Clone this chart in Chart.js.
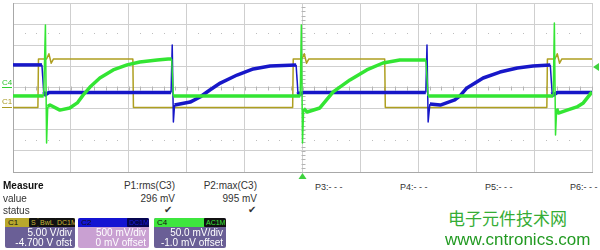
<!DOCTYPE html>
<html>
<head>
<meta charset="utf-8">
<script src="https://cdn.jsdelivr.net/npm/chart.js@4"></script>
<style>
  body { margin: 0; background: #fff; font-family: Arial, "Liberation Sans", sans-serif; }
  #wrap { position: relative; width: 600px; height: 250px; overflow: hidden; }
  #plot { position: absolute; left: 0; top: 0; width: 600px; height: 180px; }
  .t { position: absolute; font-size: 10px; color: #333; white-space: nowrap; line-height: 12px; }
  .r { text-align: right; }
  .box { position: absolute; top: 218px; height: 30px; border-radius: 2px; overflow: hidden; }
  .hd { height: 9px; font-size: 8px; line-height: 9px; padding-left: 3px; position: relative; }
  .bd { color: #fff; font-size: 10px; line-height: 10px; text-align: right; padding-right: 3px; padding-top: 1px; }
  .bg { position: absolute; top: 0; height: 9px; background: #111; font-size: 7px; line-height: 9px; padding: 0 2px; border-radius: 1px; }
  .tag { position: absolute; font-size: 8px; line-height: 9px; }
</style>
</head>
<body>
<div id="wrap">
  <div id="plot"><canvas id="scope"></canvas></div>

  <div class="tag" style="left:2px;top:78px;color:#2fc42f;">C4</div>
  <div style="position:absolute;left:2px;top:87px;width:10px;height:1px;background:#2fd12f;"></div>
  <div class="tag" style="left:2px;top:97px;color:#a89a22;">C1</div>
  <div style="position:absolute;left:2px;top:107px;width:10px;height:1px;background:#a89a22;"></div>

  <div class="t" style="left:3px;top:180px;font-weight:bold;color:#111;">Measure</div>
  <div class="t" style="left:3px;top:193px;">value</div>
  <div class="t" style="left:3px;top:205px;">status</div>
  <div class="t r" style="left:105px;width:70px;top:180px;">P1:rms(C3)</div>
  <div class="t r" style="left:105px;width:70px;top:193px;">296 mV</div>
  <div class="t" style="left:164px;top:204px;">&#10004;</div>
  <div class="t r" style="left:187px;width:70px;top:180px;">P2:max(C3)</div>
  <div class="t r" style="left:187px;width:70px;top:193px;">995 mV</div>
  <div class="t" style="left:248px;top:204px;">&#10004;</div>
  <div class="t" style="left:315px;top:181px;font-size:9px;">P3:- - -</div>
  <div class="t" style="left:400px;top:181px;font-size:9px;">P4:- - -</div>
  <div class="t" style="left:485px;top:181px;font-size:9px;">P5:- - -</div>
  <div class="t" style="left:570px;top:181px;font-size:9px;">P6:- - -</div>

  <div class="box" style="left:5px;width:70px;background:#6a5f96;">
    <div class="hd" style="background:#b8a82c;color:#111;">C1
      <span class="bg" style="left:24px;color:#c9b83a;">S</span>
      <span class="bg" style="left:33px;color:#c9b83a;">BwL</span>
      <span class="bg" style="left:50px;color:#c9b83a;">DC1M</span>
    </div>
    <div class="bd">5.00 V/div<br>-4.700 V ofst</div>
  </div>
  <div class="box" style="left:78px;width:71px;background:#c9a0d2;">
    <div class="hd" style="background:#1414d2;color:#111;">C2
      <span class="bg" style="left:49px;color:#1a1ae0;background:#050550;">DC1M</span>
    </div>
    <div class="bd">500 mV/div<br>0 mV offset</div>
  </div>
  <div class="box" style="left:154px;width:72px;background:#6a5f96;">
    <div class="hd" style="background:#3ee63e;color:#111;">C4
      <span class="bg" style="left:50px;color:#3ee63e;">AC1M</span>
    </div>
    <div class="bd">50.0 mV/div<br>-1.0 mV offset</div>
  </div>

  <div class="t" style="left:448px;top:208px;font-size:17px;line-height:20px;color:#35ad35;font-family:'Noto Sans CJK SC',sans-serif;">电子元件技术网</div>
  <div class="t" style="left:445px;top:230px;font-size:17px;line-height:20px;color:#229a22;">www.cntronics.com</div>
</div>

<script>
// Time in divisions (10 across), level in divisions (8 tall, 0 = centre)
const c1Time = [0, 0.43, 0.44, 0.58, 0.62, 0.66, 0.70, 2.07, 2.08, 4.83, 4.84, 4.99, 5.03, 5.07, 5.11, 6.42, 6.43, 9.22, 9.23, 9.36, 9.40, 9.44, 9.48, 10];
const c1Level = [-0.95, -0.95, 1.35, 1.35, 1.6, 1.15, 1.35, 1.35, -0.95, -0.95, 1.35, 1.35, 1.6, 1.15, 1.35, 1.35, -0.95, -0.95, 1.35, 1.35, 1.6, 1.15, 1.35, 1.35];

const c2Time = [0, 0.50, 0.53, 0.56, 0.62, 2.73, 2.75, 2.77, 2.79, 3.06, 3.23, 3.40, 3.58, 3.87, 4.15, 4.44, 4.89, 4.92, 4.95, 5.01, 7.13, 7.15, 7.17, 7.20, 7.38, 7.63, 7.72, 7.84, 8.12, 8.41, 8.71, 8.98, 9.28, 9.31, 9.34, 9.40, 10];
const c2Level = [1.07, 1.07, -0.21, -0.35, -0.24, -0.24, 2.01, -1.63, -0.83, -0.69, -0.45, -0.12, 0.21, 0.59, 0.88, 1.02, 1.07, -0.21, -0.35, -0.24, -0.24, 2.01, -1.63, -0.78, -0.83, -0.59, -0.40, -0.02, 0.45, 0.73, 0.92, 1.02, 1.07, -0.21, -0.35, -0.24, -0.24];

const c4Time = [0, 0.53, 0.56, 0.58, 0.60, 0.64, 0.81, 0.98, 1.11, 1.21, 1.33, 1.50, 1.73, 1.97, 2.19, 2.49, 2.68, 2.74, 2.77, 4.96, 4.98, 5.00, 5.02, 5.08, 5.30, 5.53, 5.82, 6.11, 6.39, 6.68, 7.03, 7.13, 7.17, 9.33, 9.35, 9.37, 9.39, 9.42, 9.57, 9.74, 9.85, 10];
const c4Level = [-0.40, -0.40, 2.96, -2.63, -0.9, -0.83, -1.07, -0.97, -0.73, -0.36, 0.02, 0.45, 0.83, 1.07, 1.21, 1.30, 1.35, 1.35, -0.40, -0.40, 2.96, -2.63, -1.0, -1.16, -0.97, -0.21, 0.36, 0.83, 1.16, 1.30, 1.30, 1.30, -0.40, -0.40, 3.05, -2.25, -1.0, -1.21, -1.07, -0.92, -0.73, -0.21];

const triggerTime = 5;
const triggerLevel = 0.97;

const pts = (t, v) => t.map((x, i) => ({ x: x, y: v[i] }));

// noisy traces look thick along flat parts but edges/spikes are thin
const traceWidth = (thick, thin) => ctx => {
    const dx = Math.abs(ctx.p1.x - ctx.p0.x);
    const dy = Math.abs(ctx.p1.y - ctx.p0.y);
    return dy > dx * 3 ? thin : thick;
};

// --- grid extras: centre-line ticks, dotted rows, trigger markers ---
const scopeDecor = {
    id: 'scopeDecor',
    beforeDatasetsDraw(chart) {
        const { ctx, scales: { x, y } } = chart;
        ctx.save();
        ctx.strokeStyle = '#b4b4b4';
        ctx.lineWidth = 1;
        const cy = Math.round(y.getPixelForValue(0)) + 0.5;
        const cx = Math.round(x.getPixelForValue(5)) + 0.5;
        for (let v = 0; v <= 10; v += 0.2) {
            const px = Math.round(x.getPixelForValue(v)) + 0.5;
            ctx.beginPath(); ctx.moveTo(px, cy - 2); ctx.lineTo(px, cy + 2); ctx.stroke();
        }
        for (let v = -4; v <= 4; v += 0.2) {
            const py = Math.round(y.getPixelForValue(v)) + 0.5;
            ctx.beginPath(); ctx.moveTo(cx - 2, py); ctx.lineTo(cx + 2, py); ctx.stroke();
        }
        ctx.fillStyle = '#bdbdbd';
        [2.6, -2.5].forEach(lv => {
            const py = Math.round(y.getPixelForValue(lv));
            for (let v = 0.2; v < 10; v += 0.2) {
                if (Math.abs(v - Math.round(v)) < 0.01) continue;
                ctx.fillRect(Math.round(x.getPixelForValue(v)), py, 1, 1);
            }
        });
        ctx.restore();
    },
    afterDraw(chart) {
        const { ctx, chartArea, scales: { x, y } } = chart;
        ctx.save();
        ctx.fillStyle = '#3ed23e';
        const ty = y.getPixelForValue(triggerLevel);
        ctx.beginPath();
        ctx.moveTo(chartArea.right + 1, ty);
        ctx.lineTo(chartArea.right + 7, ty - 4);
        ctx.lineTo(chartArea.right + 7, ty + 4);
        ctx.fill();
        const tx = x.getPixelForValue(triggerTime);
        ctx.beginPath();
        ctx.moveTo(tx, chartArea.bottom + 1);
        ctx.lineTo(tx - 4, chartArea.bottom + 7);
        ctx.lineTo(tx + 4, chartArea.bottom + 7);
        ctx.fill();
        ctx.restore();
    }
};

new Chart(document.getElementById('scope'), {
    type: 'line',
    data: {
        datasets: [
            { label: 'C4', data: pts(c4Time, c4Level), borderColor: '#33e533', borderWidth: 3.5,
              segment: { borderWidth: traceWidth(3.5, 1.5) }, order: 1 },
            { label: 'C2', data: pts(c2Time, c2Level), borderColor: '#1717c8', borderWidth: 3.5,
              segment: { borderWidth: traceWidth(3.5, 1.5) }, order: 2 },
            { label: 'C1', data: pts(c1Time, c1Level), borderColor: '#ae9f20', borderWidth: 1.5, order: 3 }
        ]
    },
    options: {
        responsive: true,
        maintainAspectRatio: false,
        animation: false,
        events: [],
        layout: { padding: { left: 13, right: 8, top: 3, bottom: 8 } },
        elements: { point: { radius: 0 }, line: { tension: 0, borderJoinStyle: 'round' } },
        plugins: { legend: { display: false }, tooltip: { enabled: false } },
        scales: {
            x: {
                type: 'linear', min: 0, max: 10,
                ticks: { display: false, stepSize: 1 },
                grid: { color: '#cfcfcf', drawTicks: false },
                border: { color: '#a8a8a8' }
            },
            y: {
                type: 'linear', min: -4, max: 4,
                ticks: { display: false, stepSize: 1 },
                grid: { color: '#cfcfcf', drawTicks: false },
                border: { color: '#a8a8a8' }
            }
        }
    },
    plugins: [scopeDecor]
});
</script>
</body>
</html>
